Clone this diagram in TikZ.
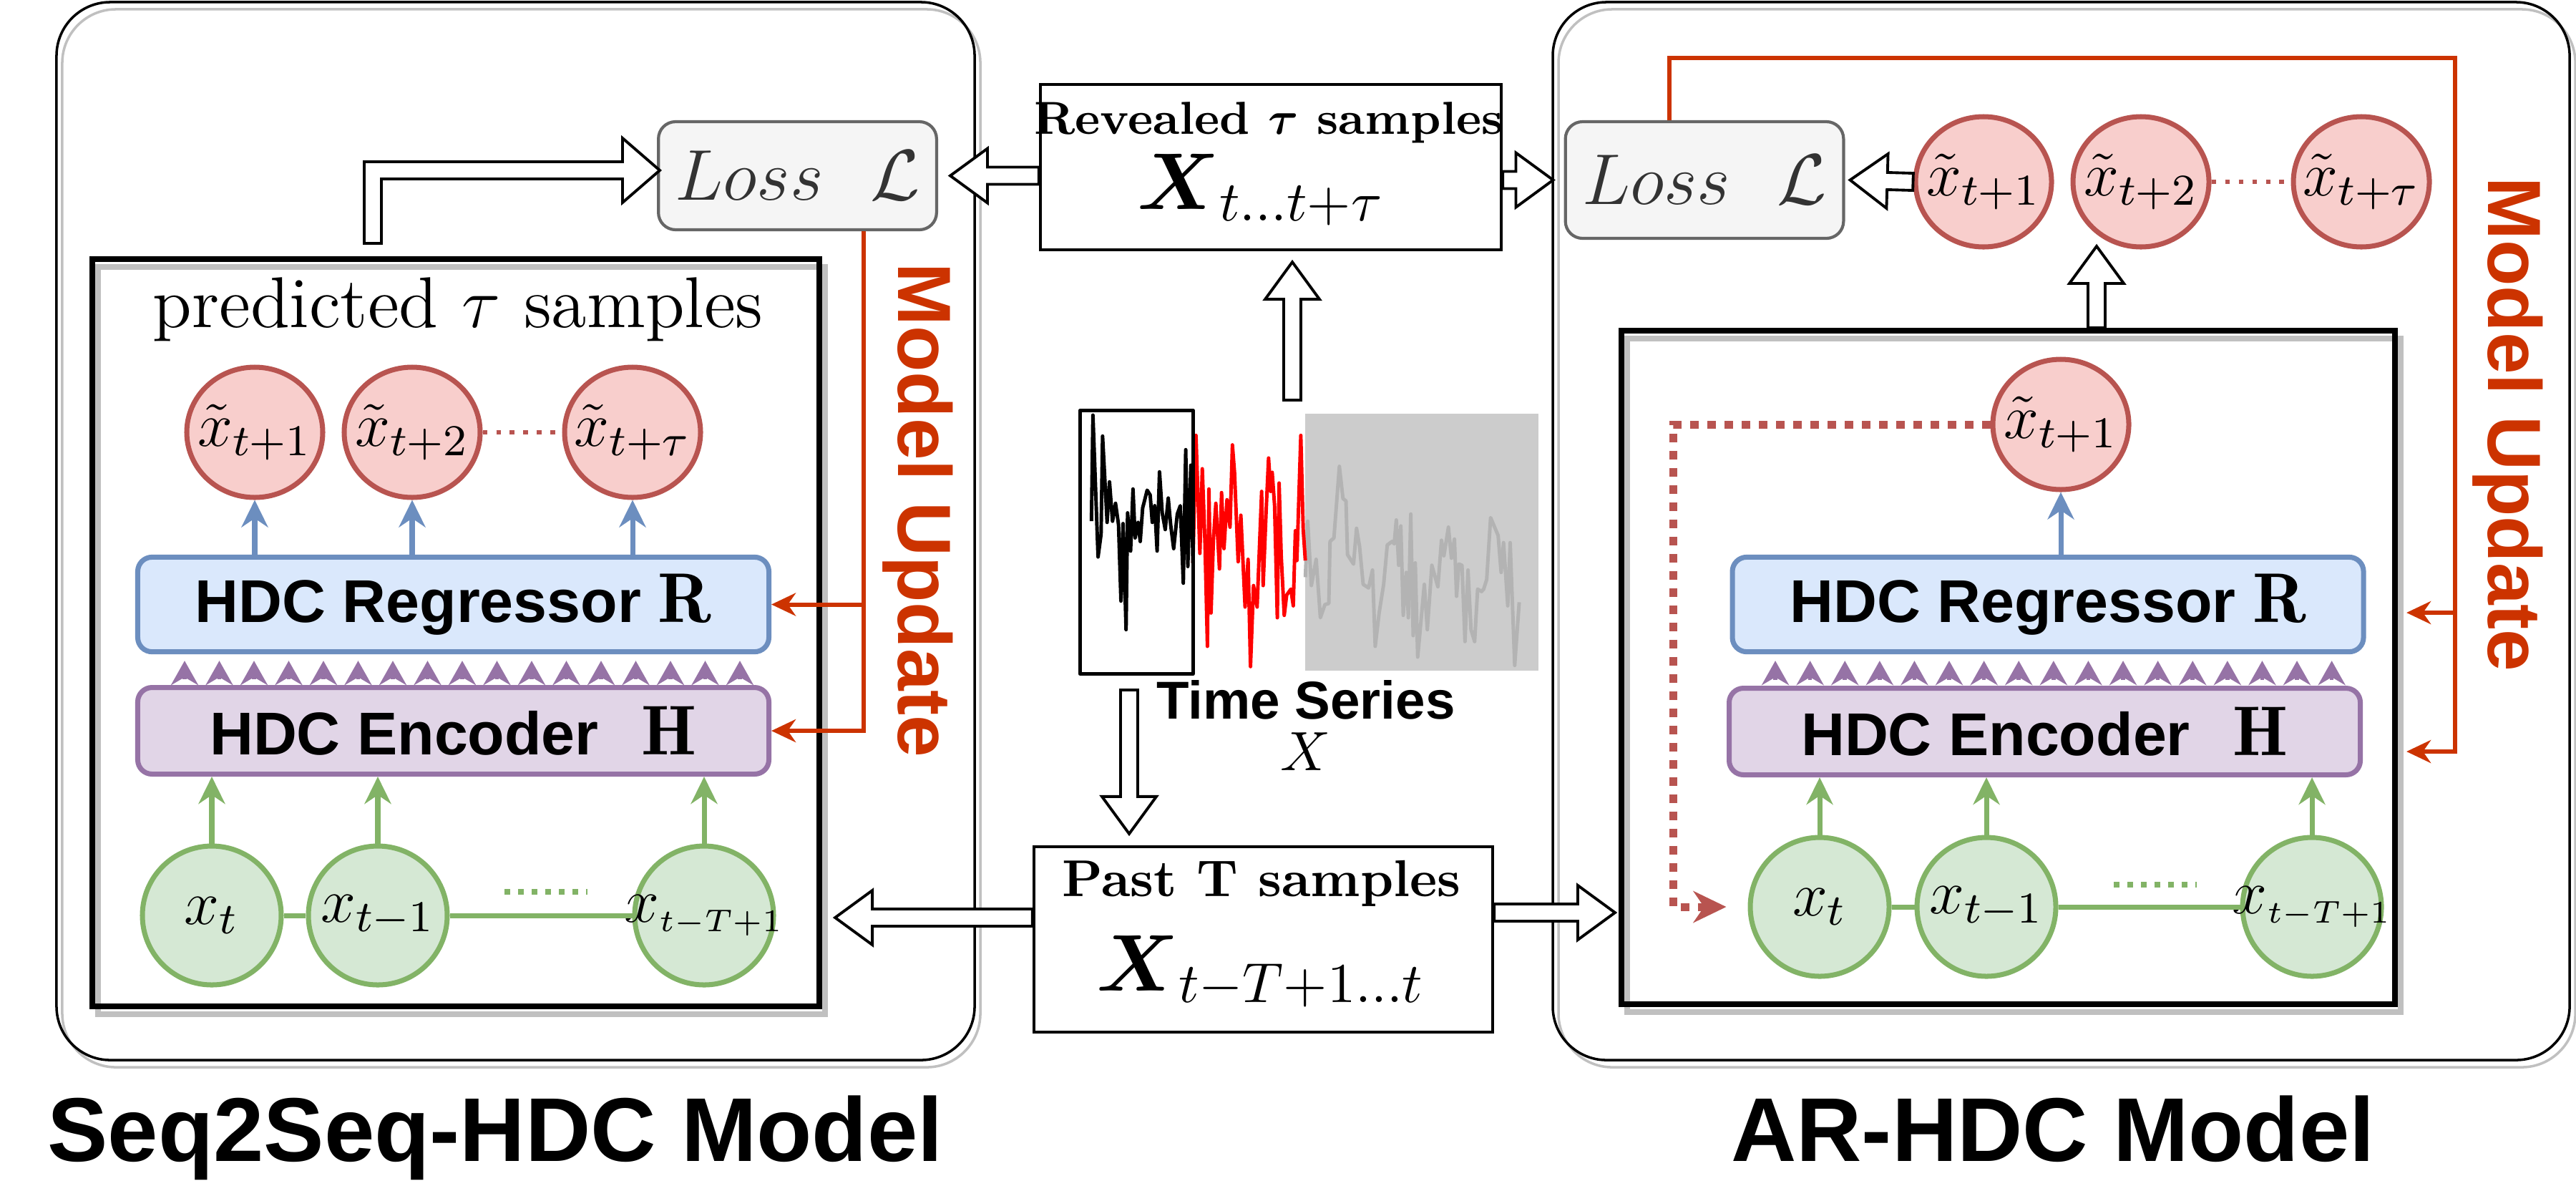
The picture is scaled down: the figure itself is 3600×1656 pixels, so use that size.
\RequirePackage{fix-cm}
\documentclass[tikz,border=0pt]{standalone}
\usepackage{amsmath}
\usepackage{fontspec}
\setsansfont{Liberation Sans}
\usepackage{tikz}
\usetikzlibrary{arrows.meta,calc,positioning,shapes.geometric}

\definecolor{updred}{HTML}{CC3300}
\definecolor{predfill}{HTML}{F8CECC}
\definecolor{preddraw}{HTML}{B85450}
\definecolor{regfill}{HTML}{DAE8FC}
\definecolor{regdraw}{HTML}{6C8EBF}
\definecolor{encfill}{HTML}{E1D5E7}
\definecolor{encdraw}{HTML}{9673A6}
\definecolor{infill}{HTML}{D5E8D4}
\definecolor{indraw}{HTML}{82B366}
\definecolor{lossfill}{HTML}{F5F5F5}
\definecolor{lossdraw}{HTML}{666666}
\definecolor{shadowgray}{HTML}{C0C0C0}
\definecolor{seriesgray}{HTML}{B3B3B3}
\definecolor{futuregray}{HTML}{CCCCCC}

% hollow block arrow from #1 to #2
\newcommand{\fatarrow}[2]{%
  \coordinate (fa) at ($(#2)!2.6mm!(#1)$);
  \draw[fat] ($(#1)!0.6mm!90:(fa)$) -- ($(fa)!0.6mm!-90:(#1)$) -- ($(fa)!1.9mm!-90:(#1)$) -- (#2)
    -- ($(fa)!1.9mm!90:(#1)$) -- ($(fa)!0.6mm!90:(#1)$) -- ($(#1)!0.6mm!-90:(fa)$) -- cycle;}

\begin{document}
\begin{tikzpicture}[x=0.05mm,y=-0.05mm,
  panel/.style={draw,line width=0.5pt,rounded corners=3.75mm,
    preaction={draw=shadowgray,line width=0.5pt,transform canvas={xshift=0.4mm,yshift=-0.5mm}}},
  frame/.style={draw,line width=1.15pt,
    preaction={draw=shadowgray,line width=1.15pt,transform canvas={xshift=0.4mm,yshift=-0.55mm}}},
  sample/.style={ellipse,line width=1pt,inner sep=0pt,font=\fontsize{12.5}{14}\selectfont,
    execute at begin node={\hbox to 0pt\bgroup\hss},execute at end node={\hss\egroup}},
  pred/.style={sample,draw=preddraw,fill=predfill,minimum width=9.5mm,minimum height=9.1mm},
  past/.style={sample,draw=indraw,fill=infill,minimum width=9.7mm,minimum height=9.7mm},
  reg/.style={draw=regdraw,fill=regfill,line width=1pt,rounded corners=1mm,minimum width=44.1mm,minimum height=6.05mm,font=\sffamily\bfseries\fontsize{12}{14}\selectfont},
  enc/.style={draw=encdraw,fill=encfill,line width=1pt,rounded corners=1mm,minimum width=44.1mm,minimum height=6.05mm,font=\sffamily\bfseries\fontsize{12}{14}\selectfont},
  loss/.style={draw=lossdraw,fill=lossfill,line width=0.6pt,rounded corners=1.2mm,minimum width=17.95mm,text=black!80,font=\fontsize{14.3}{16}\selectfont},
  window/.style={draw,line width=0.6pt},
  regarr/.style={regdraw,line width=1pt,-{Stealth[length=1.9mm,width=1.85mm]}},
  encarr/.style={encdraw,line width=0.8pt,-{Stealth[length=1.7mm,width=1.9mm]},shorten <=0.4mm,shorten >=0.45mm},
  inarr/.style={indraw,line width=1pt,-{Stealth[length=1.9mm,width=1.85mm]}},
  link/.style={indraw,line width=1pt},
  gdots/.style={indraw,line width=1.1pt,dash pattern=on 1.1pt off 1.6pt},
  rdots/.style={preddraw,line width=0.9pt,dash pattern=on 0.9pt off 1.8pt},
  upd/.style={updred,line width=0.85pt},
  updarr/.style={upd,-{Stealth[length=1.7mm,width=1.6mm]}},
  updtxt/.style={text=updred,font=\sffamily\bfseries\fontsize{15}{17}\selectfont},
  fat/.style={draw,line width=0.55pt,fill=white,line join=miter},
  feedback/.style={preddraw,line width=0.55mm,dash pattern=on 0.6mm off 0.6mm,-{Stealth[length=2.3mm,width=2.2mm]}},
  caption/.style={anchor=base,font=\sffamily\bfseries\fontsize{18}{20}\selectfont}]

\useasboundingbox (0,0) rectangle (3600,1656);

\node[panel,minimum width=64.15mm,minimum height=73.9mm] (seqpanel) at (720.5,742) {};
\node[panel,minimum width=71.05mm,minimum height=73.9mm] (arpanel) at (2880.5,742) {};
\node[frame,minimum width=50.8mm,minimum height=52.2mm] (seqin) at (637,884) {};
\node[frame,minimum width=54.05mm,minimum height=47.05mm] (arin) at (2806.5,932.5) {};

% Seq2Seq-HDC
\node[anchor=base,font=\fontsize{14.3}{16}\selectfont] (predtxt) at (640,457) {predicted $\tau$ samples};
\node[pred] (p1) at (356,604) {$\tilde{x}_{t+1}$};
\node[pred] (p2) at (576,604) {$\tilde{x}_{t+2}$};
\node[pred] (pn) at (884,604) {$\tilde{x}_{t+\tau}$};
\node[reg] (reg1) at (633.5,844.5) {HDC Regressor {\fontsize{14}{16}\selectfont$\mathbf{R}$}};
\node[enc] (enc1) at (633.5,1021) {HDC Encoder\hspace{3mm}{\fontsize{14}{16}\selectfont$\mathbf{H}$}};
\node[past] (x1) at (296,1279) {$x_t$};
\node[past] (x2) at (528,1279) {$x_{t-1}$};
\node[past] (xn) at (984,1279) {$x_{\scriptscriptstyle t-T+1}$};
\node[loss,minimum height=7.55mm] (loss1) at (1114.5,245.5) {$Loss\ \ \mathcal{L}$};

\draw[rdots] (p2) -- (pn);
\foreach \n in {p1,p2,pn} \draw[regarr] (reg1.north -| \n.south) -- (\n.south);
\foreach \i [evaluate=\i as \x using 258+48.5*\i] in {0,...,16}
  \draw[encarr] (enc1.north -| \x,0) -- (reg1.south -| \x,0);
\foreach \n in {x1,x2,xn} \draw[inarr] (\n.north) -- (\n.north |- enc1.south);
\draw[link] (x1) -- (x2) -- (xn);
\draw[gdots] (705,1246) -- (821,1246);

\draw[updarr] (loss1.south -| 1207,0) |- (enc1.east);
\draw[updarr] (reg1.east -| 1207,0) -- (reg1.east);
\node[updtxt,rotate=-90] (mu1) at (1283,713) {Model Update};

\draw[fat] (509,340) -- (509,226) -- (870,226) -- (870,193) -- (922,238) -- (870,283) -- (870,250) -- (533,250) -- (533,340) -- cycle;

% time series and samples
\node[window,minimum width=32.2mm,minimum height=11.55mm] (rev) at (1776,233.5) {};
\node[anchor=base,font=\bfseries\fontsize{9.2}{11}\selectfont] (revtop) at (1773,187) {Revealed $\boldsymbol{\tau}$ samples};
\node[anchor=base,font=\fontsize{16}{18}\selectfont] (revsub) at (1762,292) {$\boldsymbol{X}_{t...t+\tau}$};
\node[window,minimum width=32.05mm,minimum height=12.95mm] (past) at (1765.5,1312.5) {};
\node[anchor=base,font=\bfseries\fontsize{10.3}{12}\selectfont] (pasttop) at (1763,1252) {Past T samples};
\node[anchor=base,font=\fontsize{16}{18}\selectfont] (pastsub) at (1762,1384) {$\boldsymbol{X}_{t-T+1...t}$};

\begin{scope}[shift={(1500,560)},xscale=0.421,yscale=0.333,line width=0.7pt,line join=round]
  \fill[futuregray] (770,55) rectangle (1544,1132);
  \draw[seriesgray] plot coordinates {(770,740) (778,505) (790,775) (806,665) (820,910) (835,855) (848,850) (852,590) (865,575) (883,275) (895,410) (905,420) (910,645) (930,685) (940,535) (950,610) (962,770) (980,785) (993,710) (1002,1030) (1015,890) (1030,770) (1042,605) (1058,590) (1065,600) (1072,500) (1080,690) (1087,525) (1095,900) (1105,720) (1112,910) (1120,475) (1128,985) (1135,680) (1143,1075) (1165,770) (1175,960) (1190,690) (1210,780) (1222,585) (1230,650) (1245,530) (1255,660) (1265,580) (1272,820) (1280,685) (1290,690) (1300,1010) (1310,710) (1320,960) (1332,1010) (1342,790) (1355,800) (1362,790) (1372,750) (1385,490) (1395,520) (1410,565) (1420,720) (1428,595) (1442,860) (1450,595) (1465,1110) (1480,845)};
  \draw[red] plot coordinates {(397,680) (407,145) (420,640) (428,285) (437,600) (445,1030) (450,370) (457,890) (465,580) (473,430) (485,705) (492,385) (500,620) (510,415) (520,530) (528,185) (535,300) (547,675) (556,480) (570,865) (580,665) (588,1115) (598,775) (610,865) (625,380) (630,775) (640,460) (648,240) (655,380) (660,300) (668,440) (677,910) (683,345) (690,650) (700,900) (708,815) (722,790) (730,860) (737,545) (742,670) (755,145) (763,540) (770,670)};
  \draw[black] plot coordinates {(60,505) (65,60) (82,655) (92,560) (97,148) (112,510) (120,340) (130,505) (140,430) (150,520) (158,840) (165,515) (175,960) (180,470) (190,630) (198,370) (205,575) (215,510) (222,590) (230,450) (245,375) (255,395) (262,510) (270,440) (278,630) (286,298) (295,470) (305,540) (315,408) (323,520) (333,620) (345,475) (355,440) (365,765) (373,205) (380,695) (390,270) (397,680)};
  \draw[line width=0.75pt] (22,40) rectangle (397,1145);
\end{scope}
\node[anchor=base,font=\sffamily\bfseries\fontsize{10.6}{12}\selectfont] (tslabel) at (1825,1004) {Time Series};
\node[anchor=base,font=\fontsize{11}{13}\selectfont] (tsx) at (1825,1076) {$X$};

% AR-HDC
\node[loss,minimum height=8.15mm] (loss2) at (2382,251.5) {$Loss\ \ \mathcal{L}$};
\node[pred] (q1) at (2772,254) {$\tilde{x}_{t+1}$};
\node[pred] (q2) at (2992,254) {$\tilde{x}_{t+2}$};
\node[pred] (qn) at (3300,254) {$\tilde{x}_{t+\tau}$};
\node[pred] (q0) at (2880,593) {$\tilde{x}_{t+1}$};
\node[reg] (reg2) at (2862,844.5) {HDC Regressor {\fontsize{14}{16}\selectfont$\mathbf{R}$}};
\node[enc] (enc2) at (2857.5,1022) {HDC Encoder\hspace{3mm}{\fontsize{14}{16}\selectfont$\mathbf{H}$}};
\node[past] (y1) at (2543,1267) {$x_t$};
\node[past] (y2) at (2776,1267) {$x_{t-1}$};
\node[past] (yn) at (3231,1267) {$x_{\scriptscriptstyle t-T+1}$};

\draw[rdots] (q2) -- (qn);
\draw[regarr] (reg2.north -| q0.south) -- (q0.south);
\foreach \i [evaluate=\i as \x using 2481+48.6*\i] in {0,...,16}
  \draw[encarr] (enc2.north -| \x,0) -- (reg2.south -| \x,0);
\foreach \n in {y1,y2,yn} \draw[inarr] (\n.north) -- (\n.north |- enc2.south);
\draw[link] (y1) -- (y2) -- (yn);
\draw[gdots] (2954,1236) -- (3070,1236);

\coordinate (fbend) at ($(y1.west)+(-30,0)$);
\draw[feedback] (q0.west) -| (fbend -| 2338,0) -- (fbend);

\coordinate (u2) at ($(arin.east)+(12,0)$);
\draw[updarr] (loss2.north -| 2333,0) |- (3431,81) |- (u2 |- 0,1050);
\draw[updarr] (3431,856) -- (u2 |- 0,856);
\node[updtxt,rotate=-90] (mu2) at (3505,593) {Model Update};

% block arrows
\coordinate (a2s) at (rev.west |- loss1.east);
\coordinate (a2e) at ($(loss1.east)+(17,0)$);
\fatarrow{a2s}{a2e}
\coordinate (a3s) at (rev.east |- loss2.west);
\coordinate (a3e) at ($(loss2.west)+(-15,0)$);
\fatarrow{a3s}{a3e}
\coordinate (a4e) at ($(rev.south)+(30,15)$);
\coordinate (a4s) at (a4e |- 0,559);
\fatarrow{a4s}{a4e}
\coordinate (a5e) at ($(past.north)+(-187.5,-16)$);
\coordinate (a5s) at (a5e |- 0,964);
\fatarrow{a5s}{a5e}
\coordinate (a6s) at (past.west |- 0,1282);
\coordinate (a6e) at ($(seqin.east |- 0,1282)+(18,0)$);
\fatarrow{a6s}{a6e}
\coordinate (a7s) at (past.east |- 0,1275);
\coordinate (a7e) at ($(arin.west |- 0,1275)+(-5,0)$);
\fatarrow{a7s}{a7e}
\coordinate (a8e) at ($(loss2.east)+(7,0)$);
\fatarrow{q1.west}{a8e}
\coordinate (a9s) at (arin.north -| 2930,0);
\coordinate (a9e) at (a9s |- 0,344);
\fatarrow{a9s}{a9e}

\node[caption] (seqlabel) at (692,1622) {Seq2Seq-HDC Model};
\node[caption] (arlabel) at (2869,1622) {AR-HDC Model};
\end{tikzpicture}
\end{document}
